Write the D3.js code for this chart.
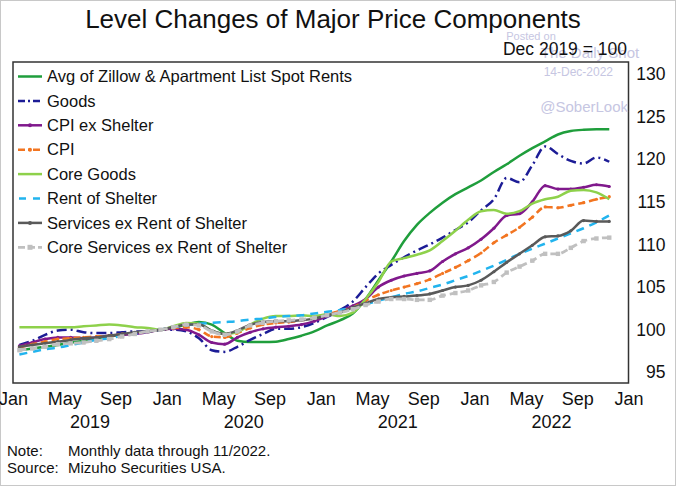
<!DOCTYPE html>
<html><head><meta charset="utf-8">
<script src="https://cdn.jsdelivr.net/npm/d3@7"></script>
<style>
html,body{margin:0;padding:0;background:#fff;}
text{font-family:"Liberation Sans",Arial,sans-serif;}
</style></head>
<body><svg id="c" width="676" height="486"></svg>
<script>
const months = ["2019-01","2019-02","2019-03","2019-04","2019-05","2019-06","2019-07","2019-08","2019-09","2019-10","2019-11","2019-12",
"2020-01","2020-02","2020-03","2020-04","2020-05","2020-06","2020-07","2020-08","2020-09","2020-10","2020-11","2020-12",
"2021-01","2021-02","2021-03","2021-04","2021-05","2021-06","2021-07","2021-08","2021-09","2021-10","2021-11","2021-12",
"2022-01","2022-02","2022-03","2022-04","2022-05","2022-06","2022-07","2022-08","2022-09","2022-10","2022-11"];

const spotRents = [97.6,97.8,98.0,98.2,98.5,98.7,99.0,99.2,99.4,99.6,99.8,100.0,
 100.2,100.6,100.9,100.6,99.6,98.7,98.55,98.55,98.6,98.9,99.3,99.8,
 100.5,101.1,101.9,103.6,105.8,108.0,110.4,112.3,113.7,114.9,115.9,116.7,
 117.5,118.5,119.4,120.4,121.3,122.1,122.9,123.3,123.45,123.5,123.5];
const goods = [98.2,98.7,99.4,99.9,100.0,99.7,99.6,99.6,99.7,99.8,99.8,100.0,
 100.0,99.8,99.0,97.6,97.4,98.0,98.8,99.5,100.1,100.1,100.3,100.8,
 101.5,102.3,103.3,105.0,106.6,107.6,108.5,109.3,110.0,110.8,111.7,112.6,
 114.0,115.3,117.8,117.3,119.3,121.5,120.6,119.8,119.5,120.2,119.7];
const cpiExShelter = [98.1,98.5,98.9,99.1,99.1,99.0,99.1,99.3,99.4,99.5,99.7,100.0,
 100.1,100.0,99.4,98.5,98.3,99.1,99.7,100.1,100.3,100.4,100.6,101.0,
 101.6,102.2,102.8,103.6,105.0,105.8,106.3,106.6,106.9,108.0,108.9,109.6,
 110.6,111.9,113.4,113.6,115.0,116.9,116.5,116.5,116.7,117.0,116.8];
const cpi = [97.9,98.3,98.6,98.9,99.0,99.1,99.2,99.3,99.5,99.6,99.8,100.0,
 100.2,100.3,100.0,99.2,99.1,99.6,100.2,100.6,100.8,100.9,101.1,101.4,
 101.8,102.2,102.6,103.4,104.1,104.6,105.0,105.4,105.9,106.6,107.3,108.1,
 109.0,110.2,111.1,112.0,113.2,114.4,114.3,114.6,114.9,115.3,115.6];
const coreGoods = [100.3,100.3,100.3,100.3,100.3,100.4,100.5,100.6,100.5,100.3,100.2,100.0,
 100.4,100.8,100.7,99.9,99.5,99.7,100.6,101.3,101.6,101.6,101.7,101.6,
 101.8,101.6,102.0,103.6,105.6,108.0,108.4,108.8,109.3,110.4,111.6,112.9,
 113.9,114.05,113.6,113.9,114.8,115.3,115.6,116.3,116.4,116.1,115.3];
const rentShelter = [97.1,97.4,97.7,97.9,98.2,98.5,98.8,99.0,99.3,99.5,99.8,100.0,
 100.3,100.5,100.7,100.8,100.9,101.0,101.2,101.3,101.5,101.6,101.7,101.9,
 102.1,102.3,102.6,103.0,103.4,103.8,104.2,104.5,104.9,105.3,105.8,106.3,
 106.9,107.5,108.2,108.9,109.5,110.1,110.7,111.3,111.9,112.6,113.4];
const servicesExRent = [98.0,98.2,98.4,98.6,98.8,99.0,99.1,99.3,99.5,99.7,99.8,100.0,
 100.3,100.6,100.6,99.9,99.5,99.9,100.6,100.9,101.0,101.0,101.1,101.3,
 101.7,102.0,102.6,103.1,103.6,103.8,103.9,104.0,104.2,104.6,105.0,105.2,
 105.8,106.8,107.9,108.9,109.9,110.9,111.0,111.6,112.8,112.7,112.7];
const coreServicesExRent = [97.6,97.8,98.0,98.3,98.4,98.5,98.7,98.9,99.2,99.5,99.8,100.0,
 100.3,100.6,100.5,99.8,99.4,99.8,100.5,100.8,101.0,101.1,101.2,101.4,
 101.7,102.0,102.4,102.9,103.3,103.6,103.6,103.5,103.5,104.0,104.3,104.6,
 105.2,105.6,106.7,107.4,108.1,108.9,108.9,109.6,110.4,110.7,110.8];

const seriesNames = ["Avg of Zillow & Apartment List Spot Rents","Goods","CPI ex Shelter","CPI","Core Goods","Rent of Shelter","Services ex Rent of Shelter","Core Services ex Rent of Shelter"];
const seriesValues = [spotRents, goods, cpiExShelter, cpi, coreGoods, rentShelter, servicesExRent, coreServicesExRent];
const xTickLabels = ["Jan","May","Sep","Jan","May","Sep","Jan","May","Sep","Jan","May","Sep","Jan"];
const yearLabels = ["2019","2020","2021","2022"];
const yTicks = [95,100,105,110,115,120,125,130];

const styles = [
 {color:"#1f9e3c", dash:null, w:2.5, marker:null},
 {color:"#1c1c96", dash:"10,4,2,4", w:2.5, marker:null},
 {color:"#80198c", dash:null, w:2.5, marker:"dot"},
 {color:"#f27521", dash:"7,4", w:2.5, marker:"dot"},
 {color:"#8ed14b", dash:null, w:2.5, marker:null},
 {color:"#22b4ee", dash:"8,6", w:2.5, marker:null},
 {color:"#5a5a5a", dash:null, w:2.5, marker:"dot"},
 {color:"#c0c0c0", dash:"7,4", w:2.8, marker:"square"}
];

const svg = d3.select("#c");
svg.append("rect").attr("x",0.5).attr("y",0.5).attr("width",675).attr("height",485)
  .attr("fill","#fff").attr("stroke","#c8c8c8");

const L = 13, R = 628.5, T = 62, B = 383;
const x = d3.scaleLinear().domain([0, months.length + 1]).range([L, R]);
const y = d3.scaleLinear().domain([93.75, 131.4]).range([B, T]);

// title
svg.append("text").attr("x",333).attr("y",28).attr("text-anchor","middle")
  .attr("font-size",26).attr("fill","#111").text("Level Changes of Major Price Components");

// watermark
const wm = "#c6c6e2";
svg.append("text").attr("x",590).attr("y",58).attr("text-anchor","middle").attr("font-size",15).attr("fill",wm).text("The Daily Shot");
svg.append("text").attr("x",531).attr("y",40).attr("text-anchor","middle").attr("font-size",11).attr("fill",wm).text("Posted on");
svg.append("text").attr("x",627).attr("y",55).attr("text-anchor","end")
  .attr("font-size",17.5).attr("fill","#111").text("Dec 2019 = 100");

// plot frame
svg.append("rect").attr("x",L).attr("y",T).attr("width",R-L).attr("height",B-T)
  .attr("fill","none").attr("stroke","#333").attr("stroke-width",1.5);

svg.append("text").attr("x",613).attr("y",76).attr("text-anchor","end").attr("font-size",12).attr("fill",wm).text("14-Dec-2022");
svg.append("text").attr("x",628).attr("y",112).attr("text-anchor","end").attr("font-size",15).attr("fill",wm).text("@SoberLook");

// y axis (right)
const yAxis = svg.append("g").attr("transform",`translate(${R},0)`)
  .call(d3.axisRight(y).tickValues(yTicks).tickSize(0));
yAxis.select(".domain").remove();
yAxis.selectAll("text").attr("x",37).attr("text-anchor","end")
  .attr("font-size",17.5).attr("fill","#111").attr("font-family","Liberation Sans, Arial, sans-serif");

// x axis
const xAxis = svg.append("g").attr("transform",`translate(0,${B})`)
  .call(d3.axisBottom(x).tickValues(d3.range(0, 49, 4)).tickSize(0).tickFormat((d,i)=>xTickLabels[i]));
xAxis.select(".domain").remove();
xAxis.selectAll("text").attr("y",9).attr("dy","0.71em")
  .attr("font-size",18).attr("fill","#111").attr("font-family","Liberation Sans, Arial, sans-serif");
svg.append("g").selectAll("text").data(yearLabels).join("text")
  .attr("x",(d,i)=>x(6 + 12*i)).attr("y",428).attr("text-anchor","middle")
  .attr("font-size",18).attr("fill","#111").text(d=>d);

// lines
const line = d3.line().x((d,i)=>x(i+0.5)).y(d=>y(d)).curve(d3.curveMonotoneX);
const plot = svg.append("g");
seriesValues.forEach((vals, k) => {
  const s = styles[k];
  const p = plot.append("path").datum(vals).attr("d", line)
    .attr("fill","none").attr("stroke",s.color).attr("stroke-width",s.w)
    .attr("stroke-linejoin","round");
  if (s.dash) p.attr("stroke-dasharray", s.dash);
  if (s.marker === "dot") {
    plot.append("g").selectAll("circle").data(vals).join("circle")
      .attr("cx",(d,i)=>x(i+0.5)).attr("cy",d=>y(d)).attr("r",1.6).attr("fill",s.color);
  } else if (s.marker === "square") {
    plot.append("g").selectAll("rect").data(vals).join("rect")
      .attr("x",(d,i)=>x(i+0.5)-2.2).attr("y",d=>y(d)-2.2).attr("width",4.4).attr("height",4.4).attr("fill",s.color);
  }
});

// legend
const leg = svg.append("g");
seriesNames.forEach((name, k) => {
  const s = styles[k];
  const yy = 76.5 + k*24.4;
  const ln = leg.append("line").attr("x1",18).attr("x2",42).attr("y1",yy).attr("y2",yy)
    .attr("stroke",s.color).attr("stroke-width",s.w);
  if (k===1) ln.attr("stroke-dasharray","7,3,2,3");
  if (k===3) ln.attr("stroke-dasharray","7,3,2,3");
  if (k===5) ln.attr("stroke-dasharray","7,7").attr("x1",19);
  if (k===7) ln.attr("stroke-dasharray","7,3");
  if (s.marker==="dot") leg.append("circle").attr("cx",30).attr("cy",yy).attr("r",2).attr("fill",s.color);
  if (s.marker==="square") leg.append("rect").attr("x",27.5).attr("y",yy-2.5).attr("width",5).attr("height",5).attr("fill",s.color);
  leg.append("text").attr("x",47).attr("y",yy).attr("dy","0.35em").attr("font-size",16.5).attr("fill","#111").text(name);
});

// notes
svg.append("text").attr("x",7).attr("y",456).attr("font-size",15).attr("fill","#111").text("Note:");
svg.append("text").attr("x",68).attr("y",456).attr("font-size",15).attr("fill","#111").text("Monthly data through 11/2022.");
svg.append("text").attr("x",7).attr("y",473).attr("font-size",15).attr("fill","#111").text("Source:");
svg.append("text").attr("x",68).attr("y",473).attr("font-size",15).attr("fill","#111").text("Mizuho Securities USA.");
</script></body></html>
